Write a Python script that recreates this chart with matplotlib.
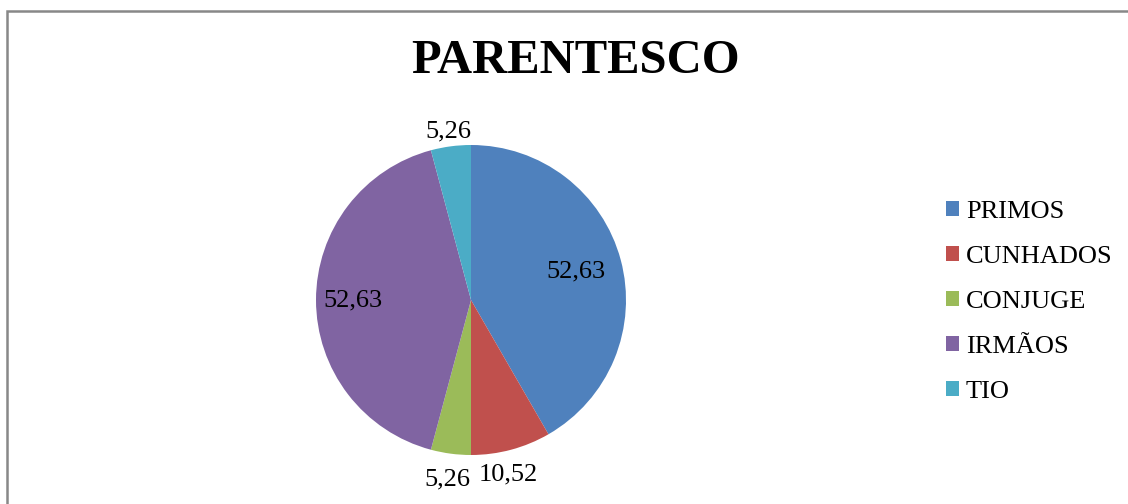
import numpy as np
import matplotlib.pyplot as plt
from matplotlib.patches import Rectangle, Patch

plt.rcParams['font.family'] = ['Liberation Serif', 'DejaVu Serif']

categorias = ['PRIMOS', 'CUNHADOS', 'CONJUGE', 'IRMÃOS', 'TIO']
valores = [52.63, 10.52, 5.26, 52.63, 5.26]
rotulos = ['52,63', '10,52', '5,26', '52,63', '5,26']
cores = ['#4F81BD', '#C0504D', '#9BBB59', '#8064A2', '#4BACC6']
# distancia do rotulo ao centro (em raios) e ajuste de angulo (graus)
dist = [0.70, 1.15, 1.17, 0.76, 1.10]
desvio = [0, -3, 0, 0, 0]

W, H = 1128, 504
fig = plt.figure(figsize=(W/100, H/100), dpi=100)

# moldura cinza (so topo e esquerda aparecem)
fig.add_artist(Rectangle((6.5/W, -0.1), 1.2, 1.1 - 11.5/H, transform=fig.transFigure,
                         fill=False, edgecolor='#888888', lw=1.8))

cx, cy, r = 471, 300, 155
ax = fig.add_axes([(cx - r)/W, (H - cy - r)/H, 2*r/W, 2*r/H])
wedges, _ = ax.pie(valores, colors=cores, startangle=90, counterclock=False,
                   radius=1, wedgeprops=dict(linewidth=0))
ax.set_xlim(-1, 1)
ax.set_ylim(-1, 1)
ax.axis('off')

for w, txt, d, dv in zip(wedges, rotulos, dist, desvio):
    ang = np.deg2rad((w.theta1 + w.theta2) / 2 + dv)
    ax.text(d*np.cos(ang), d*np.sin(ang), txt, ha='center', va='center',
            fontsize=19, clip_on=False)

fig.text(576/W, 1 - 61/H, 'PARENTESCO', ha='center', va='center',
         fontsize=35, fontweight='bold')

handles = [Patch(facecolor=c, edgecolor='none') for c in cores]
fig.legend(handles, categorias, loc='center left', bbox_to_anchor=(933/W, 1 - 302/H),
           frameon=False, fontsize=19, handlelength=0.5, handleheight=0.5,
           handletextpad=0.25, labelspacing=0.87, borderpad=0)

fig.savefig('out.png', dpi=100, facecolor='white')
